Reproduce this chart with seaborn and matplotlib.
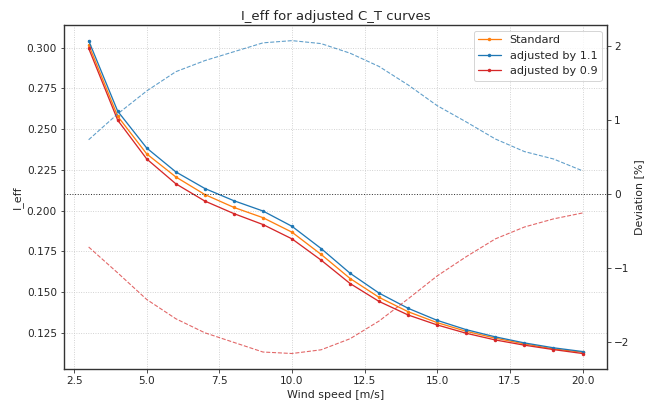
import numpy as np
import pandas as pd
import matplotlib
matplotlib.use("Agg")
import matplotlib.pyplot as plt
import seaborn as sns

wind = [3, 4, 5, 6, 7, 8, 9, 10, 11, 12, 13, 14, 15, 16, 17, 18, 19, 20]
standard = [0.3018, 0.2579, 0.2348, 0.2207, 0.2099, 0.2020, 0.1957, 0.1868, 0.1732,
            0.1584, 0.1468, 0.1380, 0.1313, 0.1260, 0.1218, 0.1183, 0.1152, 0.1132]
adj_11 = [0.3043, 0.2610, 0.2384, 0.2238, 0.2136, 0.2061, 0.1998, 0.1904, 0.1768,
          0.1616, 0.1494, 0.1401, 0.1327, 0.1270, 0.1226, 0.1189, 0.1159, 0.1136]
adj_09 = [0.2996, 0.2555, 0.2317, 0.2165, 0.2059, 0.1982, 0.1915, 0.1827, 0.1697,
          0.1553, 0.1443, 0.1360, 0.1299, 0.1248, 0.1207, 0.1175, 0.1148, 0.1124]
dev_11 = [0.73, 1.08, 1.39, 1.65, 1.80, 1.92, 2.04, 2.07, 2.03, 1.90, 1.72, 1.47,
          1.19, 0.97, 0.74, 0.57, 0.47, 0.31]
dev_09 = [-0.72, -1.07, -1.43, -1.69, -1.88, -2.01, -2.14, -2.16, -2.11, -1.96, -1.72,
          -1.42, -1.11, -0.85, -0.61, -0.45, -0.34, -0.26]

sns.set_style("ticks")
plt.rcParams['font.family'] = ['DejaVu Sans']

fig, ax = plt.subplots(figsize=(646 / 72, 403 / 72), dpi=72)
ax2 = ax.twinx()

series = [("Standard", standard, "#ff7f0e"),
          ("adjusted by 1.1", adj_11, "#1f77b4"),
          ("adjusted by 0.9", adj_09, "#d62728")]
for name, vals, col in series:
    df = pd.DataFrame({"x": wind, "y": vals})
    sns.lineplot(data=df, x="x", y="y", ax=ax, color=col, marker="o",
                 markersize=3.5, markeredgewidth=0, linewidth=1.3, label=name)

for vals, col in [(dev_11, "#1f77b4"), (dev_09, "#d62728")]:
    df = pd.DataFrame({"x": wind, "y": vals})
    sns.lineplot(data=df, x="x", y="y", ax=ax2, color=col, linestyle="--",
                 linewidth=1.1, alpha=0.7)
ax2.axhline(0, color="black", linestyle=":", linewidth=1.0, alpha=0.8)

ax.grid(True, linestyle=":", color="#cccccc", linewidth=0.9)
ax.set_xlabel("Wind speed [m/s]", fontsize=11)
ax.set_ylabel("I_eff", fontsize=11)
ax2.set_ylabel("Deviation [%]", fontsize=11)
ax.set_title("I_eff for adjusted C_T curves", fontsize=13.3, pad=5)
ax.legend(loc="upper right", fontsize=11.2)
for a in (ax, ax2):
    a.tick_params(labelsize=10.5)
    for s in a.spines.values():
        s.set_color("#333333")
        s.set_linewidth(1.2)
fig.subplots_adjust(left=0.099, right=0.94, top=0.938, bottom=0.084)
fig.savefig("out.png", dpi=72)
